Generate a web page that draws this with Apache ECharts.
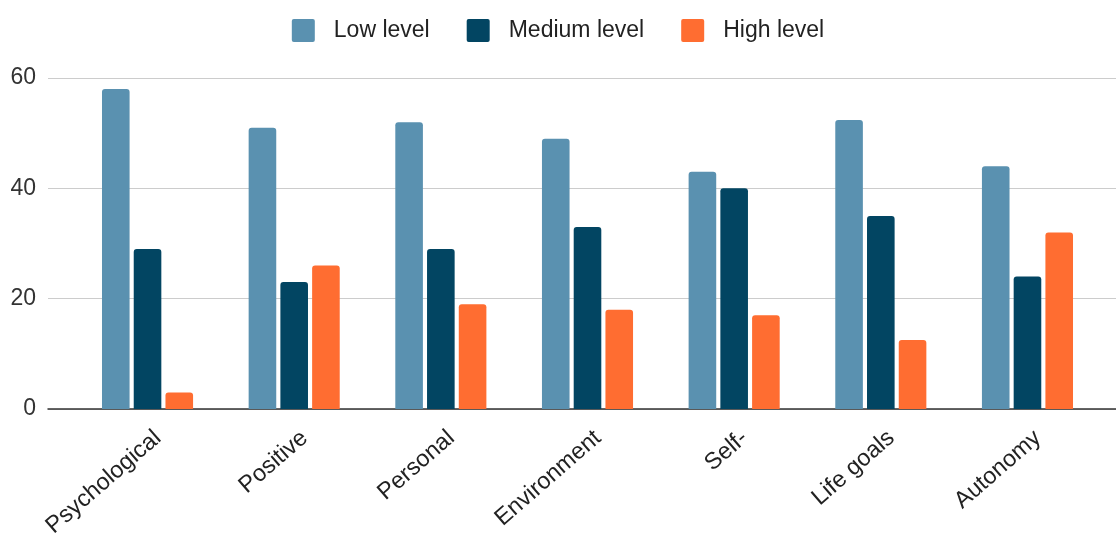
<!DOCTYPE html>
<html>
<head>
<meta charset="utf-8">
<script src="https://cdn.jsdelivr.net/npm/echarts@6/dist/echarts.min.js"></script>
<style>
  html, body { margin: 0; padding: 0; background: #ffffff; }
  #chart { width: 1116px; height: 537px; }
</style>
</head>
<body>
<div id="chart"></div>
<script>
// Categories and series values
const categories = ['Psychological', 'Positive', 'Personal', 'Environment', 'Self-', 'Life goals', 'Autonomy'];
const lowLevel = [58, 51, 52, 49, 43, 52.4, 44];
const mediumLevel = [29, 23, 29, 33, 40, 35, 24];
const highLevel = [3, 26, 19, 18, 17, 12.5, 32];
const seriesNames = ['Low level', 'Medium level', 'High level'];
const yTicks = [0, 20, 40, 60];

const colors = ['#5A91B0', '#024562', '#FF6D31'];
const FONT = '"Liberation Sans", Arial, sans-serif';
const FONT_SIZE = 23;

const chart = echarts.init(document.getElementById('chart'), null, { renderer: 'canvas' });

const yMin = yTicks[0];
const yMax = yTicks[yTicks.length - 1];
const yStep = yTicks[1] - yTicks[0];

// square legend marker with slightly rounded corners
const legendIcon = 'path://M2,0 H21 Q23,0 23,2 V21 Q23,23 21,23 H2 Q0,23 0,21 V2 Q0,0 2,0 Z';

function barSeries(name, data, color) {
  return {
    name: name,
    type: 'bar',
    xAxisIndex: 1,
    yAxisIndex: 1,
    data: data,
    barWidth: 27.6,
    barGap: '15%',
    itemStyle: { color: color, borderRadius: [3, 3, 0, 0] },
    z: 3
  };
}

const gridBase = { top: 78, bottom: 128, containLabel: false, outerBoundsMode: 'none' };

chart.setOption({
  animation: false,
  backgroundColor: '#ffffff',
  color: colors,
  textStyle: { fontFamily: FONT },
  legend: {
    top: 14,
    left: 'center',
    itemWidth: 23,
    itemHeight: 23,
    itemGap: 37,
    icon: legendIcon,
    textStyle: { fontSize: FONT_SIZE, color: '#222', fontFamily: FONT, padding: [0, 0, 0, 14] },
    data: seriesNames
  },
  grid: [
    // full-width plot area: gridlines, baseline and value labels
    Object.assign({ left: 48, right: 0 }, gridBase),
    // inset area holding the category bands and bars
    Object.assign({ left: 74.2, right: 15.2 }, gridBase),
    // category label band, nudged right so the slanted names end under their groups
    Object.assign({ left: 84.7, right: 4.7 }, gridBase)
  ],
  xAxis: [
    {
      gridIndex: 0,
      type: 'value',
      min: 0, max: 1,
      axisLine: { show: true, lineStyle: { color: '#333', width: 1.5 } },
      axisTick: { show: false },
      axisLabel: { show: false },
      splitLine: { show: false }
    },
    {
      gridIndex: 1,
      type: 'category',
      data: categories,
      axisLine: { show: false },
      axisTick: { show: false },
      axisLabel: { show: false },
      splitLine: { show: false }
    },
    {
      gridIndex: 2,
      type: 'category',
      data: categories,
      axisLine: { show: false },
      axisTick: { show: false },
      axisLabel: {
        rotate: 41,
        margin: 26,
        fontSize: 23.5,
        color: '#222',
        fontFamily: FONT,
        interval: 0
      },
      splitLine: { show: false }
    }
  ],
  yAxis: [
    {
      gridIndex: 0,
      type: 'value',
      min: yMin, max: yMax, interval: yStep,
      axisLine: { show: false },
      axisTick: { show: false },
      axisLabel: { fontSize: FONT_SIZE, color: '#333', margin: 12, fontFamily: FONT },
      splitLine: { show: true, lineStyle: { color: '#cccccc', width: 1 } }
    },
    {
      gridIndex: 1,
      type: 'value',
      min: yMin, max: yMax, interval: yStep,
      show: false,
      splitLine: { show: false }
    },
    {
      gridIndex: 2,
      type: 'value',
      min: yMin, max: yMax, interval: yStep,
      show: false,
      splitLine: { show: false }
    }
  ],
  series: [
    barSeries(seriesNames[0], lowLevel, colors[0]),
    barSeries(seriesNames[1], mediumLevel, colors[1]),
    barSeries(seriesNames[2], highLevel, colors[2])
  ]
});
</script>
</body>
</html>
